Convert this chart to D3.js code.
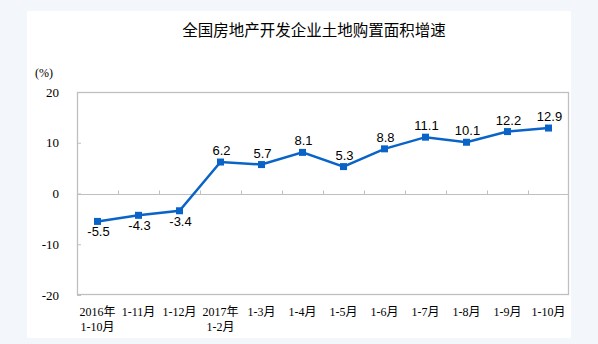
<!DOCTYPE html>
<html><head><meta charset="utf-8">
<script src="https://cdn.jsdelivr.net/npm/d3@7"></script>
<style>body{margin:0;background:#f3f7fc;}svg{display:block;}</style>
</head><body>
<script>
const title = "全国房地产开发企业土地购置面积增速";
const categories = [["2016年","1-10月"],["1-11月"],["1-12月"],["2017年","1-2月"],["1-3月"],["1-4月"],["1-5月"],["1-6月"],["1-7月"],["1-8月"],["1-9月"],["1-10月"]];
const values = [-5.5,-4.3,-3.4,6.2,5.7,8.1,5.3,8.8,11.1,10.1,12.2,12.9];
const yTicks = [-20,-10,0,10,20];
const unitLabel = "(%)";

const W=598,H=344;
const svg=d3.select("body").append("svg").attr("width",W).attr("height",H);
svg.append("rect").attr("x",0).attr("y",0).attr("width",W).attr("height",H).attr("fill","#f3f7fc");
svg.append("rect").attr("x",27).attr("y",11).attr("width",544).attr("height",327).attr("fill","#fff");

const m={l:77,r:569,t:92,b:295};
const x=d3.scaleBand().domain(d3.range(categories.length)).range([m.l,m.r]);
const y=d3.scaleLinear().domain([-20,20]).range([m.b,m.t]);
const grey="#bfbfbf", blue="#0a64c8";
const serif="'Liberation Serif','Times New Roman','Noto Sans CJK SC',serif";

svg.append("text").attr("x",314).attr("y",36).attr("text-anchor","middle")
  .attr("font-family","'Noto Sans CJK SC',sans-serif").attr("font-size",15.5).attr("fill","#000").text(title);
svg.append("text").attr("x",35).attr("y",77).attr("font-family",serif).attr("font-size",12).attr("fill","#000").text(unitLabel);

// frame
svg.append("rect").attr("x",m.l+0.5).attr("y",m.t+0.5).attr("width",m.r-m.l-1).attr("height",m.b-m.t-1)
  .attr("fill","none").attr("stroke",grey).attr("stroke-width",1.3);

// y axis
const ya=d3.axisLeft(y).tickValues(yTicks).tickSize(-4).tickPadding(18).tickFormat(d=>String(d));
const yg=svg.append("g").attr("transform",`translate(${m.l},0)`).call(ya);
yg.select(".domain").remove();
yg.selectAll("line").attr("stroke",grey);
yg.selectAll("text").attr("font-family",serif).attr("font-size",13).attr("fill","#000");

// zero line with category boundary ticks
const xa=d3.axisTop(d3.scaleLinear().domain([0,categories.length]).range([m.l,m.r]))
  .tickValues(d3.range(1,categories.length)).tickSize(4).tickFormat("");
const xg=svg.append("g").attr("transform",`translate(0,${Math.round(y(0))+0.5})`).call(xa);
xg.select(".domain").attr("stroke",grey).attr("stroke-width",1.2).attr("d",`M${m.l},0H${m.r}`);
xg.selectAll("line").attr("stroke",grey);

// x labels
const xl=svg.append("g");
categories.forEach((c,i)=>{
  const t=xl.append("text").attr("x",x(i)+x.bandwidth()/2).attr("y",316).attr("text-anchor","middle")
    .attr("font-family",serif).attr("font-size",12).attr("fill","#000");
  c.forEach((s,j)=>t.append("tspan").attr("x",x(i)+x.bandwidth()/2).attr("dy",j?15:0).text(s));
});

// line
const cx=i=>x(i)+x.bandwidth()/2;
svg.append("path").datum(values).attr("fill","none").attr("stroke",blue).attr("stroke-width",2.5)
  .attr("d",d3.line().x((d,i)=>cx(i)).y(d=>y(d)));
svg.selectAll(".mk").data(values).join("rect").attr("x",(d,i)=>cx(i)-3.5).attr("y",d=>y(d)-3.5)
  .attr("width",7).attr("height",7).attr("fill",blue);
svg.selectAll(".lb").data(values).join("text").attr("x",(d,i)=>cx(i)+1).attr("y",d=>d<0?y(d)+15:y(d)-7)
  .attr("text-anchor","middle").attr("font-family","'Liberation Sans',Arial,sans-serif").attr("font-size",13)
  .attr("fill","#000").text(d=>d.toFixed(1));
</script>
</body></html>
